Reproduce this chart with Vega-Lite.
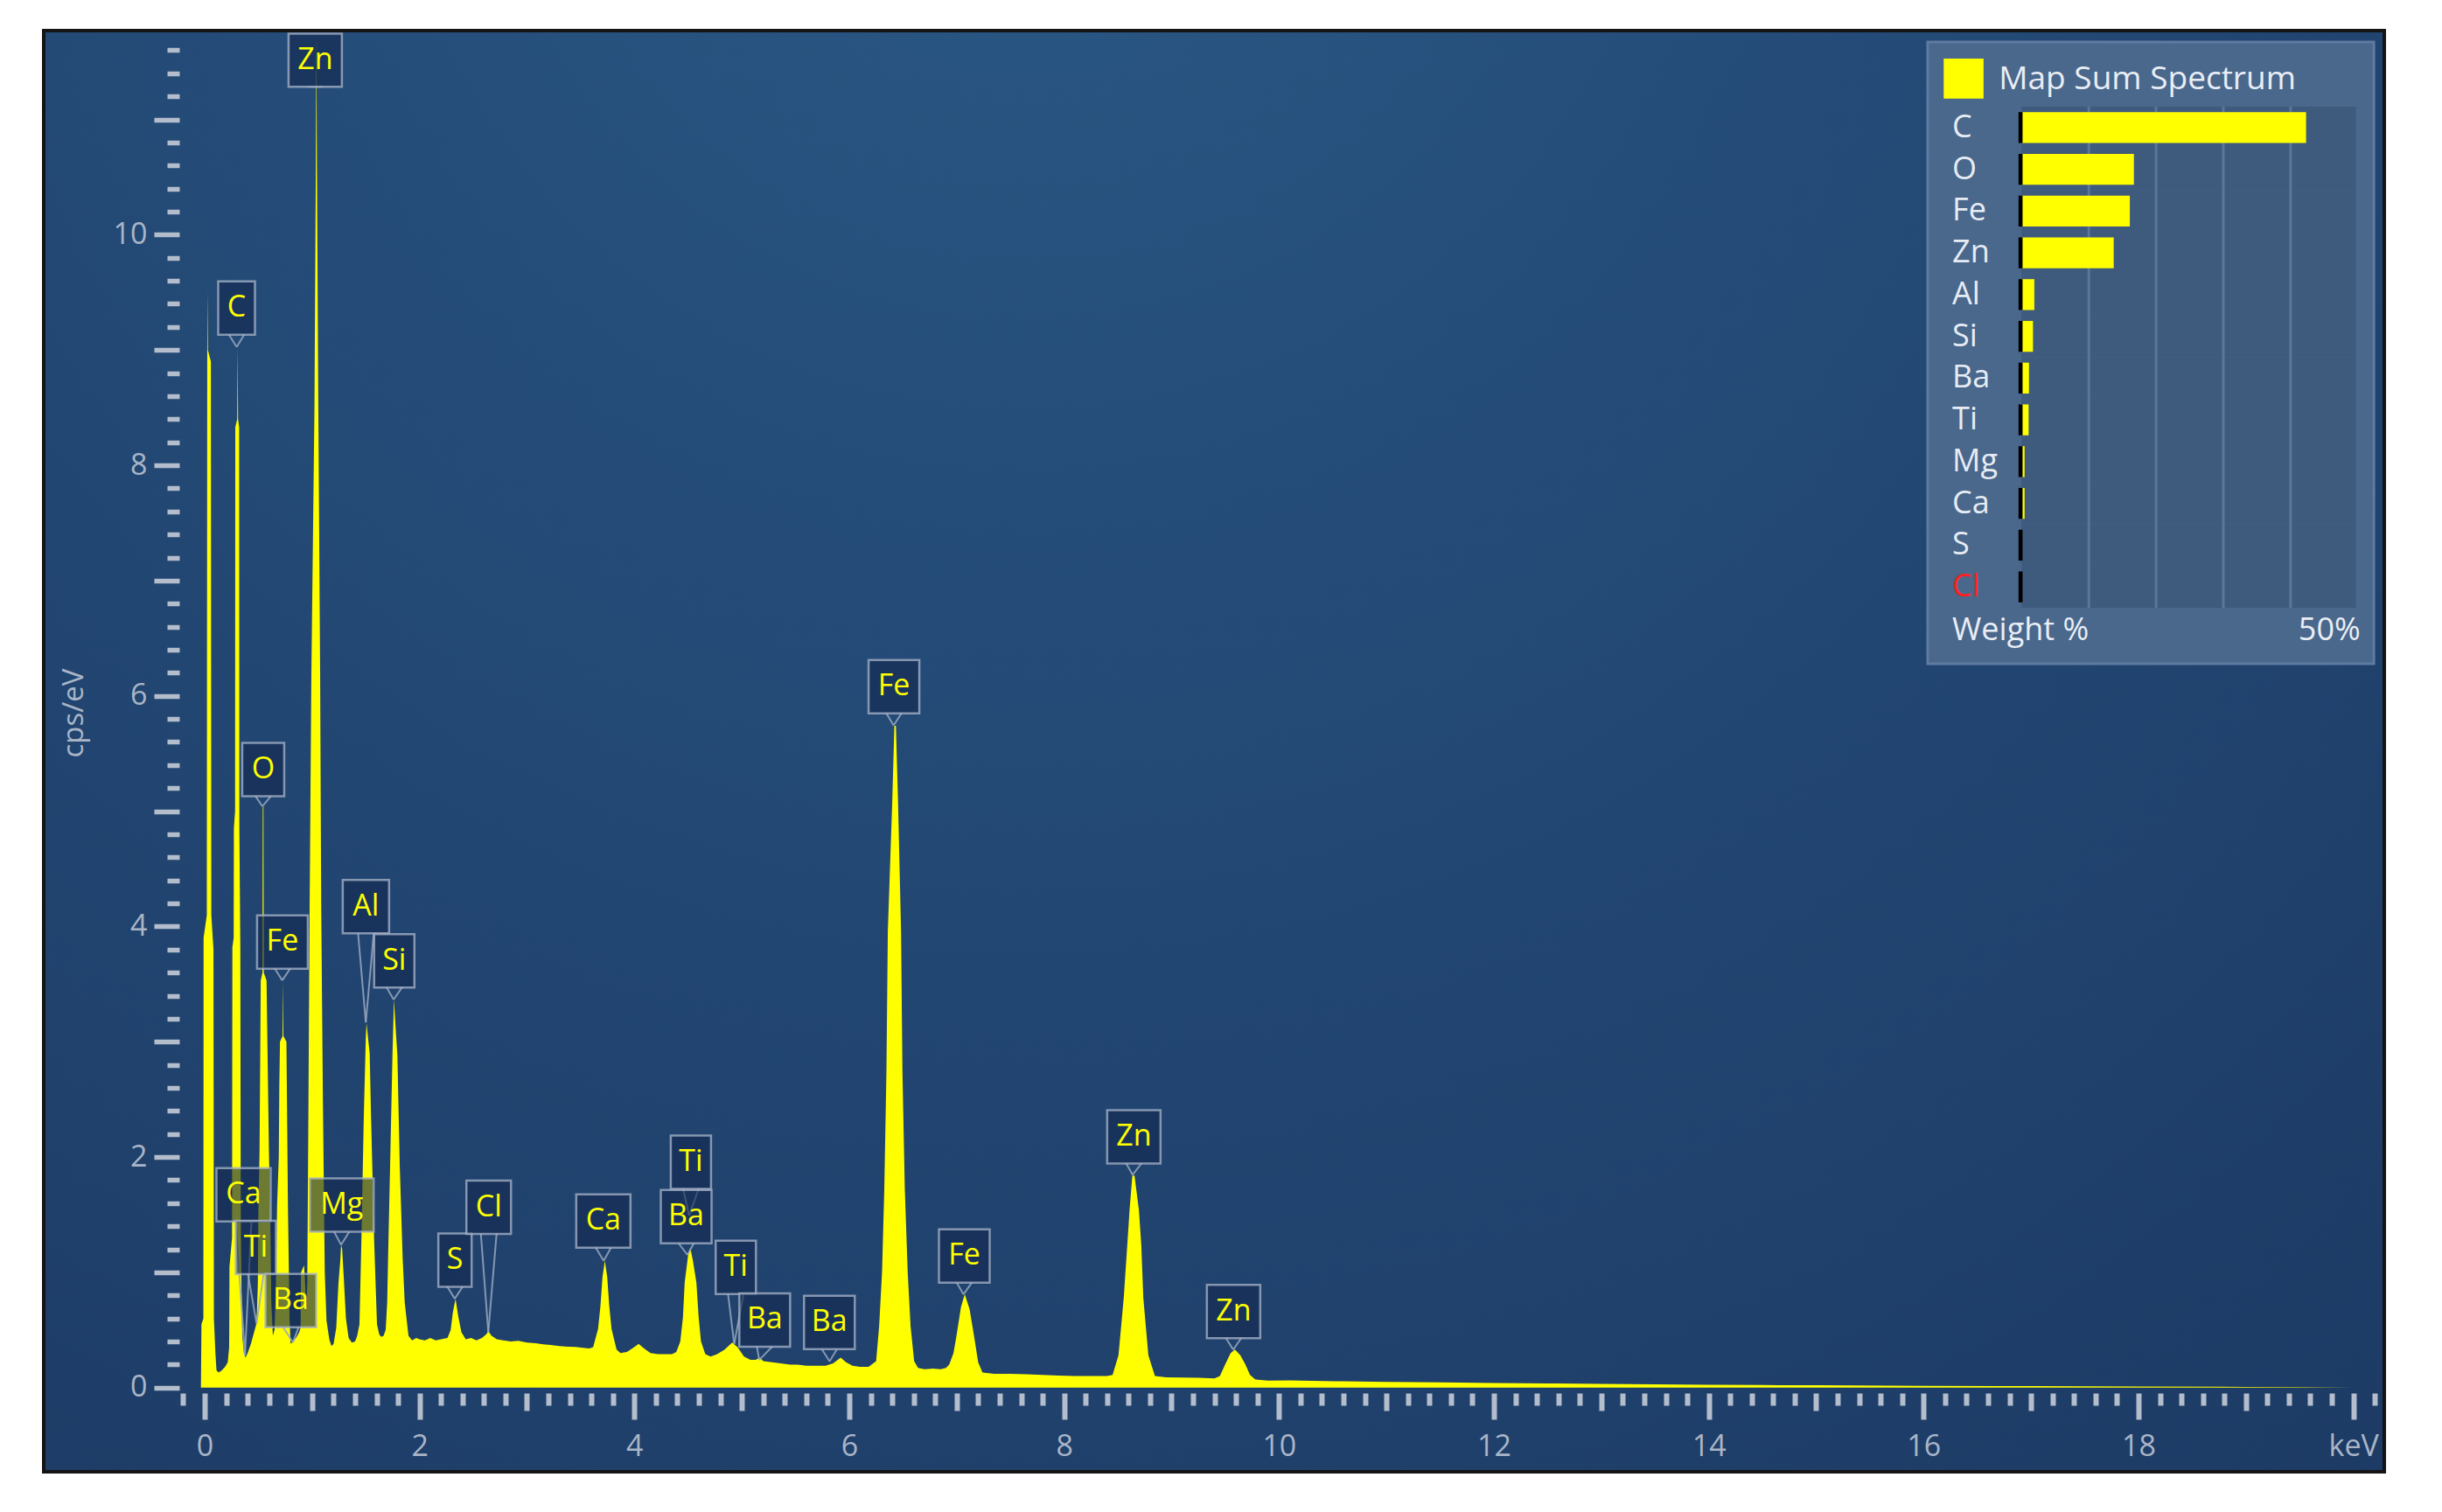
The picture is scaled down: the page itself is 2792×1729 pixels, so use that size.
{
  "$schema": "https://vega.github.io/schema/vega-lite/v6.json",
  "width": 2676,
  "height": 1648,
  "autosize": {"type": "none"},
  "padding": {"left": 50, "top": 35, "right": 66, "bottom": 46},
  "background": "#ffffff",
  "config": {"view": {"stroke": null}, "font": "Open Sans"},
  "datasets": {
    "spec": [
      {"e":-0.035,"c":0},{"e":-0.03,"c":0.55},{"e":-0.012,"c":0.6},{"e":-0.01,"c":3.9},{"e":0.02,"c":4.1},{"e":0.024,"c":9.0},{"e":0.027,"c":9.52},{"e":0.03,"c":9.0},{"e":0.058,"c":8.9},{"e":0.062,"c":4.1},{"e":0.082,"c":3.8},{"e":0.086,"c":0.6},{"e":0.1,"c":0.3},{"e":0.11,"c":0.15},{"e":0.13,"c":0.13},{"e":0.16,"c":0.15},{"e":0.19,"c":0.18},{"e":0.215,"c":0.22},
      {"e":0.228,"c":0.35},{"e":0.231,"c":1.05},{"e":0.255,"c":1.3},{"e":0.258,"c":3.82},{"e":0.27,"c":3.9},{"e":0.272,"c":4.85},{"e":0.283,"c":5.0},{"e":0.285,"c":8.33},{"e":0.303,"c":8.4},{"e":0.307,"c":9.03},{"e":0.311,"c":8.4},{"e":0.321,"c":8.33},{"e":0.323,"c":4.85},{"e":0.332,"c":3.82},{"e":0.336,"c":1.5},{"e":0.34,"c":1.05},{"e":0.35,"c":0.45},{"e":0.365,"c":0.3},{"e":0.38,"c":0.26},
      {"e":0.4,"c":0.3},{"e":0.43,"c":0.38},{"e":0.46,"c":0.48},{"e":0.483,"c":0.56},
      {"e":0.495,"c":0.9},{"e":0.5,"c":1.52},{"e":0.511,"c":2.06},{"e":0.522,"c":3.53},{"e":0.538,"c":3.6},{"e":0.541,"c":5.04},{"e":0.547,"c":5.04},{"e":0.55,"c":3.6},{"e":0.576,"c":3.53},{"e":0.598,"c":2.06},{"e":0.61,"c":1.52},{"e":0.62,"c":0.75},{"e":0.635,"c":0.45},
      {"e":0.65,"c":0.5},{"e":0.662,"c":0.8},{"e":0.674,"c":1.58},{"e":0.69,"c":2.0},{"e":0.695,"c":2.62},{"e":0.701,"c":3.0},{"e":0.725,"c":3.05},{"e":0.729,"c":3.53},{"e":0.733,"c":3.05},{"e":0.761,"c":3.0},{"e":0.765,"c":2.62},{"e":0.775,"c":1.58},{"e":0.79,"c":0.6},{"e":0.8,"c":0.38},
      {"e":0.82,"c":0.4},{"e":0.85,"c":0.43},{"e":0.88,"c":0.48},{"e":0.893,"c":0.52},{"e":0.897,"c":1.0},{"e":0.925,"c":1.06},{"e":0.935,"c":0.9},{"e":0.944,"c":0.65},
      {"e":0.955,"c":0.9},{"e":0.966,"c":2.46},{"e":0.977,"c":4.16},{"e":0.993,"c":6.17},{"e":1.022,"c":8.5},{"e":1.035,"c":10.6},{"e":1.04,"c":11.75},{"e":1.045,"c":10.6},{"e":1.058,"c":8.5},{"e":1.075,"c":6.17},{"e":1.085,"c":4.16},{"e":1.101,"c":2.46},{"e":1.118,"c":1.0},{"e":1.134,"c":0.58},{"e":1.16,"c":0.42},{"e":1.18,"c":0.36},
      {"e":1.2,"c":0.38},{"e":1.225,"c":0.52},{"e":1.245,"c":0.9},{"e":1.262,"c":1.1},{"e":1.27,"c":1.24},{"e":1.28,"c":1.2},{"e":1.295,"c":0.95},{"e":1.315,"c":0.6},{"e":1.34,"c":0.43},{"e":1.37,"c":0.39},
      {"e":1.4,"c":0.4},{"e":1.42,"c":0.45},
      {"e":1.441,"c":0.55},{"e":1.459,"c":1.29},{"e":1.481,"c":2.34},{"e":1.5,"c":3.04},{"e":1.507,"c":3.16},{"e":1.52,"c":3.04},{"e":1.536,"c":2.9},{"e":1.549,"c":2.34},{"e":1.577,"c":1.29},{"e":1.604,"c":0.55},{"e":1.625,"c":0.46},{"e":1.644,"c":0.44},{"e":1.665,"c":0.45},
      {"e":1.685,"c":0.5},{"e":1.699,"c":0.74},{"e":1.707,"c":1.12},{"e":1.726,"c":1.92},{"e":1.748,"c":2.88},{"e":1.762,"c":3.37},{"e":1.772,"c":3.2},{"e":1.794,"c":2.88},{"e":1.816,"c":1.92},{"e":1.843,"c":1.12},{"e":1.862,"c":0.74},{"e":1.897,"c":0.45},{"e":1.93,"c":0.41},{"e":1.97,"c":0.43},
      {"e":2.0,"c":0.42},{"e":2.05,"c":0.41},{"e":2.1,"c":0.43},{"e":2.15,"c":0.41},{"e":2.2,"c":0.42},{"e":2.26,"c":0.43},{"e":2.29,"c":0.5},{"e":2.31,"c":0.65},{"e":2.335,"c":0.77},{"e":2.36,"c":0.62},{"e":2.39,"c":0.48},{"e":2.43,"c":0.42},{"e":2.48,"c":0.43},{"e":2.53,"c":0.41},{"e":2.58,"c":0.43},{"e":2.62,"c":0.46},{"e":2.64,"c":0.49},{"e":2.67,"c":0.45},{"e":2.72,"c":0.42},{"e":2.78,"c":0.41},{"e":2.85,"c":0.4},{"e":2.92,"c":0.405},{"e":3.0,"c":0.39},{"e":3.08,"c":0.385},{"e":3.15,"c":0.375},{"e":3.22,"c":0.37},{"e":3.3,"c":0.36},{"e":3.38,"c":0.355},{"e":3.45,"c":0.352},{"e":3.52,"c":0.345},{"e":3.58,"c":0.34},
      {"e":3.616,"c":0.35},{"e":3.662,"c":0.51},{"e":3.684,"c":0.71},{"e":3.703,"c":0.96},{"e":3.725,"c":1.1},{"e":3.747,"c":0.96},{"e":3.766,"c":0.71},{"e":3.787,"c":0.51},{"e":3.834,"c":0.33},{"e":3.87,"c":0.3},{"e":3.93,"c":0.31},{"e":3.98,"c":0.34},{"e":4.04,"c":0.38},{"e":4.09,"c":0.34},{"e":4.15,"c":0.3},{"e":4.22,"c":0.29},{"e":4.3,"c":0.29},{"e":4.35,"c":0.29},
      {"e":4.39,"c":0.31},{"e":4.427,"c":0.4},{"e":4.452,"c":0.61},{"e":4.468,"c":0.91},{"e":4.5,"c":1.15},{"e":4.521,"c":1.21},{"e":4.545,"c":1.1},{"e":4.577,"c":0.91},{"e":4.598,"c":0.61},{"e":4.62,"c":0.4},{"e":4.66,"c":0.29},{"e":4.71,"c":0.27},{"e":4.77,"c":0.29},{"e":4.84,"c":0.33},{"e":4.91,"c":0.39},{"e":4.96,"c":0.35},{"e":5.02,"c":0.27},{"e":5.08,"c":0.24},{"e":5.13,"c":0.24},{"e":5.165,"c":0.26},{"e":5.2,"c":0.23},{"e":5.28,"c":0.22},{"e":5.36,"c":0.21},{"e":5.45,"c":0.2},{"e":5.52,"c":0.2},{"e":5.6,"c":0.19},{"e":5.7,"c":0.19},{"e":5.78,"c":0.19},{"e":5.85,"c":0.21},{"e":5.92,"c":0.26},{"e":5.97,"c":0.22},{"e":6.03,"c":0.19},{"e":6.1,"c":0.18},{"e":6.18,"c":0.18},
      {"e":6.25,"c":0.23},{"e":6.278,"c":0.53},{"e":6.305,"c":1.0},{"e":6.326,"c":1.72},{"e":6.346,"c":2.74},{"e":6.359,"c":3.96},{"e":6.4,"c":5.08},{"e":6.42,"c":5.74},{"e":6.434,"c":5.74},{"e":6.454,"c":5.08},{"e":6.482,"c":3.96},{"e":6.495,"c":2.74},{"e":6.517,"c":1.72},{"e":6.544,"c":1.0},{"e":6.571,"c":0.53},{"e":6.604,"c":0.23},{"e":6.64,"c":0.17},{"e":6.7,"c":0.16},{"e":6.78,"c":0.165},{"e":6.85,"c":0.16},{"e":6.9,"c":0.17},
      {"e":6.93,"c":0.2},{"e":6.97,"c":0.3},{"e":6.998,"c":0.45},{"e":7.04,"c":0.7},{"e":7.075,"c":0.81},{"e":7.12,"c":0.68},{"e":7.161,"c":0.45},{"e":7.2,"c":0.22},{"e":7.24,"c":0.13},{"e":7.35,"c":0.12},{"e":7.5,"c":0.12},{"e":7.65,"c":0.115},{"e":7.8,"c":0.11},{"e":7.95,"c":0.105},{"e":8.1,"c":0.1},{"e":8.25,"c":0.1},{"e":8.4,"c":0.1},
      {"e":8.451,"c":0.11},{"e":8.506,"c":0.28},{"e":8.555,"c":0.78},{"e":8.588,"c":1.24},{"e":8.609,"c":1.54},{"e":8.635,"c":1.84},{"e":8.655,"c":1.84},{"e":8.696,"c":1.54},{"e":8.718,"c":1.24},{"e":8.737,"c":0.78},{"e":8.784,"c":0.28},{"e":8.845,"c":0.1},{"e":8.95,"c":0.09},{"e":9.1,"c":0.088},{"e":9.25,"c":0.085},{"e":9.4,"c":0.08},
      {"e":9.45,"c":0.1},{"e":9.498,"c":0.2},{"e":9.55,"c":0.3},{"e":9.59,"c":0.33},{"e":9.64,"c":0.28},{"e":9.688,"c":0.2},{"e":9.73,"c":0.11},{"e":9.78,"c":0.07},{"e":9.9,"c":0.06},{"e":10.1,"c":0.062},{"e":10.3,"c":0.058},{"e":10.6,"c":0.055},{"e":11.0,"c":0.05},{"e":11.5,"c":0.045},{"e":12.0,"c":0.04},{"e":12.5,"c":0.036},{"e":13.0,"c":0.032},{"e":13.5,"c":0.028},{"e":14.0,"c":0.025},{"e":14.5,"c":0.022},{"e":15.0,"c":0.02},{"e":16.0,"c":0.016},{"e":17.0,"c":0.013},{"e":18.0,"c":0.01},{"e":19.0,"c":0.006},{"e":19.5,"c":0.003},{"e":20.0,"c":0.001},{"e":20.2,"c":0}
    ],
    "labels": [
      {"el":"Zn","x":1.04,"y":11.282,"bx":1.029,"by":11.513},
      {"el":"C","x":0.298,"y":9.026,"bx":0.297,"by":9.364},
      {"el":"O","x":0.537,"y":5.042,"bx":0.545,"by":5.36},
      {"el":"Fe","x":0.722,"y":3.532,"bx":0.724,"by":3.864},
      {"el":"Al","x":1.5,"y":3.168,"bx":1.501,"by":4.171},
      {"el":"Si","x":1.759,"y":3.366,"bx":1.765,"by":3.701},
      {"el":"Ca","x":0.375,"y":0.278,"bx":0.362,"by":1.672},
      {"el":"Ti","x":0.483,"y":0.557,"bx":0.476,"by":1.215},
      {"el":"Ba","x":0.822,"y":0.392,"bx":0.802,"by":0.754},
      {"el":"Mg","x":1.27,"y":1.239,"bx":1.276,"by":1.583},
      {"el":"S","x":2.328,"y":0.771,"bx":2.33,"by":1.106},
      {"el":"Cl","x":2.64,"y":0.481,"bx":2.644,"by":1.564},
      {"el":"Ca","x":3.714,"y":1.1,"bx":3.711,"by":1.445},
      {"el":"Ti","x":4.509,"y":1.492,"bx":4.526,"by":1.955},
      {"el":"Ba","x":4.493,"y":1.151,"bx":4.482,"by":1.483},
      {"el":"Ti","x":4.929,"y":0.379,"bx":4.944,"by":1.043},
      {"el":"Ba","x":5.162,"y":0.24,"bx":5.213,"by":0.586},
      {"el":"Ba","x":5.817,"y":0.228,"bx":5.815,"by":0.565},
      {"el":"Fe","x":6.413,"y":5.744,"bx":6.416,"by":6.08},
      {"el":"Fe","x":7.063,"y":0.809,"bx":7.071,"by":1.142},
      {"el":"Zn","x":8.638,"y":1.846,"bx":8.649,"by":2.175},
      {"el":"Zn","x":9.574,"y":0.329,"bx":9.577,"by":0.66}
    ],
    "wt": [
      {"el":"C","wt":42.3},{"el":"O","wt":16.7},{"el":"Fe","wt":16.1},{"el":"Zn","wt":13.7},{"el":"Al","wt":1.9},{"el":"Si","wt":1.7},{"el":"Ba","wt":1.1},{"el":"Ti","wt":1.05},{"el":"Mg","wt":0.45},{"el":"Ca","wt":0.45},{"el":"S","wt":0.05},{"el":"Cl","wt":0.02}
    ]
  },
  "layer": [
    {
      "data": {"values": [{}]},
      "mark": {"type": "rect", "fill": {"gradient": "radial", "x1": 0.42, "y1": 0.08, "x2": 0.42, "y2": 0.08, "r1": 0, "r2": 0.95, "stops": [{"offset": 0, "color": "#2a5885"}, {"offset": 0.55, "color": "#224672"}, {"offset": 1, "color": "#1c3a64"}]}, "stroke": "#141414", "strokeWidth": 4},
      "encoding": {
        "x": {"datum": -1.498, "type": "quantitative", "scale": {"domain": [-1.498, 20.288], "nice": false, "zero": false},
          "axis": {"orient": "bottom", "offset": -90, "zindex": 1, "title": null, "domain": false, "grid": false, "labels": false,
            "values": [-0.2,0.2,0.4,0.6,0.8,1.2,1.4,1.6,1.8,2.2,2.4,2.6,2.8,3.2,3.4,3.6,3.8,4.2,4.4,4.6,4.8,5.2,5.4,5.6,5.8,6.2,6.4,6.6,6.8,7.2,7.4,7.6,7.8,8.2,8.4,8.6,8.8,9.2,9.4,9.6,9.8,10.2,10.4,10.6,10.8,11.2,11.4,11.6,11.8,12.2,12.4,12.6,12.8,13.2,13.4,13.6,13.8,14.2,14.4,14.6,14.8,15.2,15.4,15.6,15.8,16.2,16.4,16.6,16.8,17.2,17.4,17.6,17.8,18.2,18.4,18.6,18.8,19.2,19.4,19.6,19.8,20.2],
            "tickColor": "#b3bdcc", "tickWidth": 6, "tickSize": 14}},
        "x2": {"datum": 20.288},
        "y": {"datum": -0.73, "type": "quantitative", "scale": {"domain": [-0.73, 11.77], "nice": false, "zero": false},
          "axis": {"orient": "left", "offset": -155, "zindex": 1, "title": null, "domain": false, "grid": false, "labels": false,
            "values": [0.2,0.4,0.6,0.8,1.2,1.4,1.6,1.8,2.2,2.4,2.6,2.8,3.2,3.4,3.6,3.8,4.2,4.4,4.6,4.8,5.2,5.4,5.6,5.8,6.2,6.4,6.6,6.8,7.2,7.4,7.6,7.8,8.2,8.4,8.6,8.8,9.2,9.4,9.6,9.8,10.2,10.4,10.6,10.8,11.2,11.4,11.6],
            "tickColor": "#b3bdcc", "tickWidth": 5.5, "tickSize": 14}},
        "y2": {"datum": 11.77}
      }
    },
    {
      "data": {"name": "spec"},
      "mark": {"type": "area", "color": "#ffff00", "interpolate": "linear"},
      "encoding": {
        "x": {"field": "e", "type": "quantitative",
          "scale": {"domain": [-1.498, 20.288], "nice": false, "zero": false},
          "axis": {"orient": "bottom", "offset": -90, "zindex": 1, "title": null, "domain": false, "grid": false,
            "values": [0,2,4,6,8,10,12,14,16,18,20],
            "tickColor": "#b3bdcc", "tickWidth": 6, "tickSize": 30,
            "labelExpr": "datum.value === 20 ? 'keV' : datum.label",
            "labelFont": "Open Sans", "labelFontSize": 34, "labelColor": "#a9b5c7", "labelPadding": 14, "labelOverlap": false, "labelFlush": false, "labelBound": false}
        },
        "y": {"field": "c", "type": "quantitative",
          "scale": {"domain": [-0.73, 11.77], "nice": false, "zero": false},
          "axis": {"orient": "left", "offset": -155, "zindex": 1, "domain": false, "grid": false,
            "values": [0,1,2,3,4,5,6,7,8,9,10,11],
            "tickColor": "#b3bdcc", "tickWidth": 5.5, "tickSize": 29,
            "labelExpr": "datum.value % 2 === 0 ? datum.label : ''",
            "labelFont": "Open Sans", "labelFontSize": 34, "labelColor": "#a9b5c7", "labelPadding": 8, "labelOverlap": false, "labelFlush": false, "labelBound": false,
            "title": "cps/eV", "titleFont": "Open Sans", "titleFontSize": 33, "titleFontWeight": "normal", "titleColor": "#a9b5c7",
            "titleAngle": 270, "titleX": -121, "titleY": 780, "titleAlign": "center", "titleBaseline": "middle"}
        },
        "y2": {"datum": 0}
      }
    },
    {
      "data": {"name": "labels"},
      "mark": {"type": "rule", "x2Offset": -9, "y2Offset": 30, "stroke": "#97a7be", "strokeWidth": 2, "opacity": 0.85},
      "encoding": {
        "x": {"field": "x", "type": "quantitative", "scale": {"domain": [-1.498, 20.288], "nice": false, "zero": false},
          "axis": {"orient": "bottom", "offset": -90, "zindex": 1, "title": null, "domain": false, "grid": false, "labels": false,
            "values": [1,3,5,7,9,11,13,15,17,19], "tickColor": "#b3bdcc", "tickWidth": 6, "tickSize": 20}},
        "y": {"field": "y", "type": "quantitative", "scale": {"domain": [-0.73, 11.77], "nice": false, "zero": false}, "axis": null},
        "x2": {"field": "bx"},
        "y2": {"field": "by"}
      }
    },
    {
      "data": {"name": "labels"},
      "mark": {"type": "rule", "x2Offset": 9, "y2Offset": 30, "stroke": "#97a7be", "strokeWidth": 2, "opacity": 0.85},
      "encoding": {
        "x": {"field": "x", "type": "quantitative", "scale": {"domain": [-1.498, 20.288], "nice": false, "zero": false}, "axis": null},
        "y": {"field": "y", "type": "quantitative", "scale": {"domain": [-0.73, 11.77], "nice": false, "zero": false}, "axis": null},
        "x2": {"field": "bx"},
        "y2": {"field": "by"}
      }
    },
    {
      "data": {"name": "labels"},
      "mark": {"type": "point", "filled": true, "fill": "#13294f", "fillOpacity": 0.62, "stroke": "#a9b6ca", "strokeOpacity": 0.75, "strokeWidth": 2.5, "size": 5476, "opacity": 1},
      "encoding": {
        "x": {"field": "bx", "type": "quantitative", "scale": {"domain": [-1.498, 20.288], "nice": false, "zero": false}, "axis": null},
        "y": {"field": "by", "type": "quantitative", "scale": {"domain": [-0.73, 11.77], "nice": false, "zero": false}, "axis": null},
        "shape": {"field": "el", "type": "nominal", "legend": null,
          "scale": {
            "domain": ["C","O","S","Ti","Si","Al","Cl","Fe","Ba","Zn","Ca","Mg"],
            "range": [
              "M-0.568,-0.824H0.568V0.824H-0.568Z",
              "M-0.649,-0.824H0.649V0.824H-0.649Z",
              "M-0.514,-0.824H0.514V0.824H-0.514Z",
              "M-0.622,-0.824H0.622V0.824H-0.622Z",
              "M-0.622,-0.824H0.622V0.824H-0.622Z",
              "M-0.716,-0.824H0.716V0.824H-0.716Z",
              "M-0.689,-0.824H0.689V0.824H-0.689Z",
              "M-0.784,-0.824H0.784V0.824H-0.784Z",
              "M-0.784,-0.824H0.784V0.824H-0.784Z",
              "M-0.824,-0.824H0.824V0.824H-0.824Z",
              "M-0.838,-0.824H0.838V0.824H-0.838Z",
              "M-0.986,-0.824H0.986V0.824H-0.986Z"
            ]
          }
        }
      }
    },
    {
      "data": {"name": "labels"},
      "mark": {"type": "text", "color": "#ffff00", "font": "Open Sans", "fontSize": 34, "align": "center", "baseline": "middle"},
      "encoding": {
        "x": {"field": "bx", "type": "quantitative", "scale": {"domain": [-1.498, 20.288], "nice": false, "zero": false}, "axis": null},
        "y": {"field": "by", "type": "quantitative", "scale": {"domain": [-0.73, 11.77], "nice": false, "zero": false}, "axis": null},
        "text": {"field": "el"}
      }
    },
    {
      "data": {"values": [{}]},
      "mark": {"type": "rect", "fill": "#4a678c", "stroke": "#5e7ba1", "strokeWidth": 3},
      "encoding": {
        "x": {"datum": 16.038, "type": "quantitative", "scale": {"domain": [-1.498, 20.288], "nice": false, "zero": false}, "axis": null},
        "x2": {"datum": 20.191},
        "y": {"datum": 11.671, "type": "quantitative", "scale": {"domain": [-0.73, 11.77], "nice": false, "zero": false}, "axis": null},
        "y2": {"datum": 6.278}
      }
    },
    {
      "data": {"values": [{}]},
      "mark": {"type": "rect", "fill": "#ffff00"},
      "encoding": {
        "x": {"datum": 16.187, "type": "quantitative", "scale": {"domain": [-1.498, 20.288], "nice": false, "zero": false}, "axis": null},
        "x2": {"datum": 16.558},
        "y": {"datum": 11.528, "type": "quantitative", "scale": {"domain": [-0.73, 11.77], "nice": false, "zero": false}, "axis": null},
        "y2": {"datum": 11.181}
      }
    },
    {
      "data": {"values": [{}]},
      "mark": {"type": "text", "text": "Map Sum Spectrum", "color": "#e9eef5", "font": "Open Sans", "fontSize": 37, "align": "left", "baseline": "middle"},
      "encoding": {
        "x": {"datum": 16.7, "type": "quantitative", "scale": {"domain": [-1.498, 20.288], "nice": false, "zero": false}, "axis": null},
        "y": {"datum": 11.342, "type": "quantitative", "scale": {"domain": [-0.73, 11.77], "nice": false, "zero": false}, "axis": null}
      }
    },
    {
      "data": {"values": [{}]},
      "mark": {"type": "text", "text": "Weight %", "color": "#e9eef5", "font": "Open Sans", "fontSize": 36, "align": "left", "baseline": "middle"},
      "encoding": {
        "x": {"datum": 16.267, "type": "quantitative", "scale": {"domain": [-1.498, 20.288], "nice": false, "zero": false}, "axis": null},
        "y": {"datum": 6.563, "type": "quantitative", "scale": {"domain": [-0.73, 11.77], "nice": false, "zero": false}, "axis": null}
      }
    },
    {
      "data": {"values": [{}]},
      "mark": {"type": "text", "text": "50%", "color": "#e9eef5", "font": "Open Sans", "fontSize": 36, "align": "right", "baseline": "middle"},
      "encoding": {
        "x": {"datum": 20.066, "type": "quantitative", "scale": {"domain": [-1.498, 20.288], "nice": false, "zero": false}, "axis": null},
        "y": {"datum": 6.563, "type": "quantitative", "scale": {"domain": [-0.73, 11.77], "nice": false, "zero": false}, "axis": null}
      }
    },
    {
      "data": {"name": "wt"},
      "mark": {"type": "rect", "fill": "#3e5b7e"},
      "encoding": {
        "x": {"datum": 0, "type": "quantitative", "scale": {"domain": [0, 50], "range": [2261.3, 2645.8], "nice": false, "zero": false}, "axis": null},
        "x2": {"datum": 49.7},
        "y": {"field": "el", "type": "nominal", "scale": {"type": "band", "domain": ["C","O","Fe","Zn","Al","Si","Ba","Ti","Mg","Ca","S","Cl"], "range": [87, 660], "paddingInner": 0, "paddingOuter": 0}, "axis": null}
      }
    },
    {
      "data": {"values": [{"g": 10}, {"g": 20}, {"g": 30}, {"g": 40}]},
      "mark": {"type": "rule", "stroke": "#5a769b", "strokeWidth": 3},
      "encoding": {
        "x": {"field": "g", "type": "quantitative", "scale": {"domain": [0, 50], "range": [2261.3, 2645.8], "nice": false, "zero": false}, "axis": null},
        "y": {"datum": 11.11, "type": "quantitative", "scale": {"domain": [-0.73, 11.77], "nice": false, "zero": false}, "axis": null},
        "y2": {"datum": 6.76}
      }
    },
    {
      "data": {"name": "wt"},
      "mark": {"type": "bar", "color": "#ffff00", "height": {"band": 0.74}},
      "encoding": {
        "x": {"field": "wt", "type": "quantitative", "scale": {"domain": [0, 50], "range": [2261.3, 2645.8], "nice": false, "zero": false}, "axis": null},
        "x2": {"datum": 0},
        "y": {"field": "el", "type": "nominal", "scale": {"type": "band", "domain": ["C","O","Fe","Zn","Al","Si","Ba","Ti","Mg","Ca","S","Cl"], "range": [87, 660], "paddingInner": 0, "paddingOuter": 0}, "axis": null}
      }
    },
    {
      "data": {"name": "wt"},
      "mark": {"type": "bar", "color": "#000000", "height": {"band": 0.74}},
      "encoding": {
        "x": {"datum": -0.45, "type": "quantitative", "scale": {"domain": [0, 50], "range": [2261.3, 2645.8], "nice": false, "zero": false}, "axis": null},
        "x2": {"datum": 0.15},
        "y": {"field": "el", "type": "nominal", "scale": {"type": "band", "domain": ["C","O","Fe","Zn","Al","Si","Ba","Ti","Mg","Ca","S","Cl"], "range": [87, 660], "paddingInner": 0, "paddingOuter": 0}, "axis": null}
      }
    },
    {
      "data": {"name": "wt"},
      "mark": {"type": "text", "font": "Open Sans", "fontSize": 36, "align": "left", "baseline": "middle"},
      "encoding": {
        "x": {"datum": -10.3, "type": "quantitative", "scale": {"domain": [0, 50], "range": [2261.3, 2645.8], "nice": false, "zero": false}, "axis": null},
        "y": {"field": "el", "type": "nominal", "scale": {"type": "band", "domain": ["C","O","Fe","Zn","Al","Si","Ba","Ti","Mg","Ca","S","Cl"], "range": [87, 660], "paddingInner": 0, "paddingOuter": 0}, "axis": null},
        "text": {"field": "el"},
        "color": {"condition": {"test": "datum.el === 'Cl'", "value": "#ff1f1f"}, "value": "#e6ecf4"}
      }
    }
  ],
  "resolve": {"scale": {"x": "independent", "y": "independent"}}
}
